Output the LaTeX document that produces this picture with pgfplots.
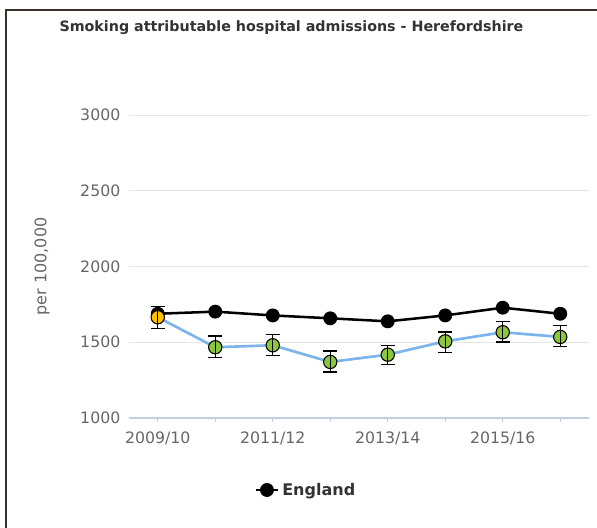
\documentclass[border=0pt]{standalone}
\usepackage{pgfplots}
\pgfplotsset{compat=1.18}
\usepackage{pgfplotstable}
\usepackage{fontspec}
\setmainfont{DejaVu Sans}

\definecolor{titlegrey}{HTML}{333333}
\definecolor{tickgrey}{HTML}{666666}
\definecolor{gridgrey}{HTML}{E6E6E6}
\definecolor{axisblue}{HTML}{C0D0E0}
\definecolor{lineblue}{HTML}{7CB5EC}
\definecolor{pointgreen}{HTML}{8CC63F}
\definecolor{pointamber}{HTML}{FFC000}
\definecolor{framebrown}{HTML}{3A302C}

% Herefordshire: value, upper and lower CI distances
\pgfplotstableread{
x  y     ep  em
0  1665  70  73
1  1467  74  67
2  1480  72  66
3  1370  72  66
4  1418  62  66
5  1506  62  72
6  1566  72  64
7  1535  74  64
}\hereford

\pgfplotstableread{
x  y
0  1688
1  1702
2  1677
3  1658
4  1638
5  1677
6  1728
7  1688
}\england

\begin{document}
\begin{tikzpicture}
\path[use as bounding box] (0,0) rectangle (447.75pt,396pt);
\begin{axis}[
    at={(96.75pt,82.5pt)}, anchor=south west,
    scale only axis,
    width=345pt, height=227.25pt,
    xmin=-0.5, xmax=7.5,
    ymin=1000, ymax=3000,
    ytick={1000,1500,2000,2500,3000},
    xtick={0,...,7},
    xticklabels={2009/10,,2011/12,,2013/14,,2015/16,},
    axis x line*=bottom, axis y line*=left,
    x axis line style={draw=axisblue, line width=0.8pt},
    y axis line style={draw=none},
    ytick style={draw=none},
    xtick style={draw=axisblue, line width=0.6pt},
    tick align=outside, major tick length=3pt,
    ymajorgrids, grid style={gridgrey, line width=0.6pt},
    tick label style={font=\fontsize{11.8}{13}\selectfont, text=tickgrey},
    /pgf/number format/assume math mode=true,
    /pgf/number format/1000 sep={},
    xticklabel style={yshift=-4pt},
    ylabel={per 100,000},
    ylabel style={at={(axis description cs:-0.189,0.5)}, anchor=center,
        font=\fontsize{12}{14}\selectfont, text=tickgrey},
    legend style={at={(axis description cs:0.385,-0.2376)}, anchor=center,
        draw=none, fill=none, font=\fontsize{12}{14}\selectfont\bfseries,
        text=titlegrey},
    legend image code/.code={
        \draw[#1, mark repeat=2, mark phase=2] plot coordinates {(0cm,0cm) (0.3cm,0cm) (0.6cm,0cm)};},
    clip mode=individual,
    clip=false,
]
\addplot[forget plot, lineblue, line width=2pt, mark=none] table[x=x,y=y] {\hereford};
\addplot[black, line width=1.9pt, mark=*, mark size=4.8pt, mark options={fill=black, line width=0.8pt}] table[x=x,y=y] {\england};
\addlegendentry{England}
\addplot[forget plot, only marks, mark=*, mark size=5pt, mark options={fill=pointamber, draw=black, line width=0.8pt},
    restrict x to domain=-0.5:0.5] table[x=x,y=y] {\hereford};
\addplot[forget plot, only marks, mark=*, mark size=5pt, mark options={fill=pointgreen, draw=black, line width=0.8pt},
    restrict x to domain=0.5:8] table[x=x,y=y] {\hereford};
\addplot[forget plot, black, draw opacity=0, mark=none,
    error bars/.cd, y dir=both, y explicit,
    error bar style={black, draw opacity=1, line width=1.1pt},
    error mark options={rotate=90, black, draw opacity=1, mark size=5.25pt, line width=1.1pt}]
    table[x=x,y=y,y error plus=ep,y error minus=em] {\hereford};
\end{axis}
\node[font=\fontsize{10.7}{12}\selectfont\bfseries, text=titlegrey] at (218.6pt,375pt)
    {Smoking attributable hospital admissions - Herefordshire};
\draw[framebrown, line width=1.5pt] (4.5pt,0) -- (4.5pt,388.5pt) -- (447.75pt,388.5pt);
\end{tikzpicture}
\end{document}
